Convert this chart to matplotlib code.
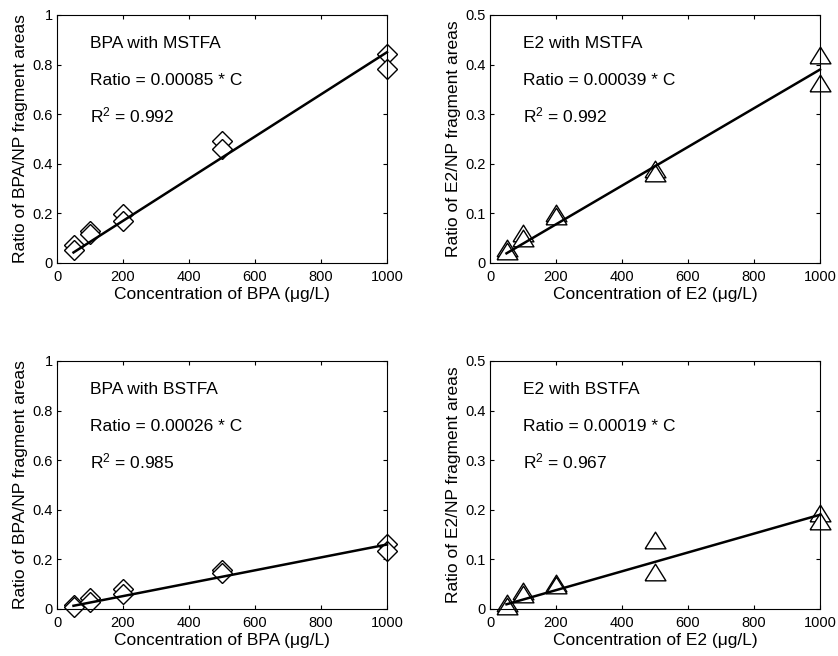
import matplotlib
matplotlib.use("Agg")
import matplotlib.pyplot as plt
import numpy as np

plt.rcParams['font.family'] = ['Liberation Sans', 'DejaVu Sans']
plt.rcParams['mathtext.default'] = 'regular'

# ---- data ----
conc = [50, 50, 100, 100, 200, 200, 500, 500, 1000, 1000]

bpa_mstfa = [0.073, 0.052, 0.128, 0.118, 0.198, 0.170, 0.490, 0.460, 0.843, 0.781]
e2_mstfa = [0.030, 0.025, 0.060, 0.050, 0.100, 0.095, 0.190, 0.182, 0.420, 0.362]
bpa_bstfa = [0.018, 0.010, 0.044, 0.030, 0.080, 0.060, 0.158, 0.145, 0.262, 0.235]
e2_bstfa = [0.012, 0.006, 0.036, 0.030, 0.052, 0.048, 0.140, 0.075, 0.193, 0.178]

slopes = [0.00085, 0.00039, 0.00026, 0.00019]
titles = ['BPA with MSTFA', 'E2 with MSTFA', 'BPA with BSTFA', 'E2 with BSTFA']
eq_texts = ['Ratio = 0.00085 * C', 'Ratio = 0.00039 * C',
            'Ratio = 0.00026 * C', 'Ratio = 0.00019 * C']
r2_texts = ['R$^{2}$ = 0.992', 'R$^{2}$ = 0.992', 'R$^{2}$ = 0.985', 'R$^{2}$ = 0.967']
xlabels = ['Concentration of BPA (\u03bcg/L)', 'Concentration of E2 (\u03bcg/L)',
           'Concentration of BPA (\u03bcg/L)', 'Concentration of E2 (\u03bcg/L)']
ylabels = ['Ratio of BPA/NP fragment areas', 'Ratio of E2/NP fragment areas',
           'Ratio of BPA/NP fragment areas', 'Ratio of E2/NP fragment areas']

xticks = [0, 200, 400, 600, 800, 1000]
xticklabels = ['0', '200', '400', '600', '800', '1000']
yticks_bpa = [0, 0.2, 0.4, 0.6, 0.8, 1.0]
yticklabels_bpa = ['0', '0.2', '0.4', '0.6', '0.8', '1']
yticks_e2 = [0, 0.1, 0.2, 0.3, 0.4, 0.5]
yticklabels_e2 = ['0', '0.1', '0.2', '0.3', '0.4', '0.5']
fit_x = [50, 1000]

series = [bpa_mstfa, e2_mstfa, bpa_bstfa, e2_bstfa]
is_bpa = [True, False, True, False]

# ---- figure ----
fig = plt.figure(figsize=(8.38, 6.56), dpi=100)
W, H = 838, 656
rects = [(57, 15), (490, 15), (57, 361), (490, 361)]
aw, ah = 330, 248

tri = [(-1, -0.8), (1, -0.8), (0, 0.8), (-1, -0.8)]

for i, (lx, ty) in enumerate(rects):
    ax = fig.add_axes([lx / W, 1 - (ty + ah) / H, aw / W, ah / H])
    y = series[i]
    if is_bpa[i]:
        ax.plot(conc, y, linestyle='none', marker='D', markersize=10,
                markerfacecolor='white', markeredgecolor='black', markeredgewidth=1.0,
                zorder=2, clip_on=False)
        ax.set_ylim(0, 1)
        ax.set_yticks(yticks_bpa)
        ax.set_yticklabels(yticklabels_bpa)
    else:
        ax.plot(conc, y, linestyle='none', marker=tri, markersize=15,
                markerfacecolor='white', markeredgecolor='black', markeredgewidth=1.0,
                zorder=2, clip_on=False)
        ax.set_ylim(0, 0.5)
        ax.set_yticks(yticks_e2)
        ax.set_yticklabels(yticklabels_e2)
    fx = np.array(fit_x, dtype=float)
    ax.plot(fx, slopes[i] * fx, color='black', linewidth=1.8, zorder=3, clip_on=False)
    ax.set_xlim(0, 1000)
    ax.set_xticks(xticks)
    ax.set_xticklabels(xticklabels)
    ax.tick_params(direction='in', top=True, right=True, length=3, width=0.8,
                   labelsize=10.5, colors='black')
    ax.tick_params(axis='x', pad=5)
    ax.tick_params(axis='y', pad=3)
    for s in ax.spines.values():
        s.set_linewidth(0.8)
    ax.set_xlabel(xlabels[i], fontsize=12.5, labelpad=2)
    ax.set_ylabel(ylabels[i], fontsize=12.5, labelpad=3)
    ax.text(0.1, 0.866, titles[i], transform=ax.transAxes, fontsize=12.5, va='baseline')
    ax.text(0.1, 0.718, eq_texts[i], transform=ax.transAxes, fontsize=12.5, va='baseline')
    ax.text(0.1, 0.566, r2_texts[i], transform=ax.transAxes, fontsize=12.5, va='baseline')

fig.savefig('out.png', dpi=100, facecolor='white')
